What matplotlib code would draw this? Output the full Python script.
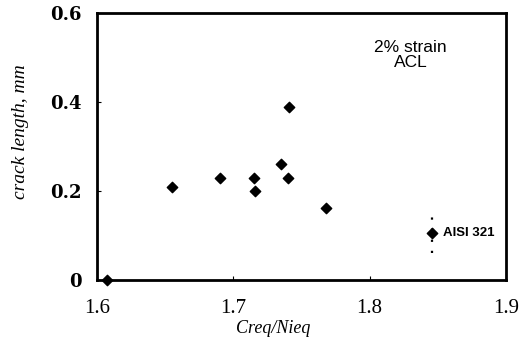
import numpy as np
from matplotlib import pyplot as plt

# data
cr_ni = [1.607, 1.655, 1.690, 1.715, 1.716, 1.735, 1.740, 1.741, 1.768]
crack = [0.0, 0.21, 0.23, 0.23, 0.20, 0.26, 0.23, 0.39, 0.162]

aisi_x = 1.846
aisi_y = 0.105
aisi_lo = 0.06
aisi_hi = 0.152

xticks = [1.6, 1.7, 1.8, 1.9]
xtick_labels = ['1.6', '1.7', '1.8', '1.9']
yticks = [0, 0.2, 0.4, 0.6]
ytick_labels = ['0', '0.2', '0.4', '0.6']

fig = plt.figure(figsize=(5.27, 3.46), dpi=100)
ax = fig.add_axes([0.184, 0.191, 0.776, 0.771])

ax.scatter(cr_ni, crack, marker='D', s=28, color='black', zorder=3, clip_on=False)

# AISI 321 point with dotted scatter band
ax.plot([aisi_x, aisi_x], [aisi_lo, aisi_hi], color='black', linestyle=(0, (1, 4)), linewidth=1.6)
ax.scatter([aisi_x], [aisi_y], marker='D', s=28, color='black', zorder=3)
ax.text(aisi_x + 0.008, aisi_y, 'AISI 321', fontsize=9.5, fontweight='bold',
        family='Liberation Sans', va='center', ha='left')

ax.text(1.830, 0.505, '2% strain\nACL', fontsize=12.5, family='Liberation Sans',
        ha='center', va='center', linespacing=1.0)

ax.set_xlim(1.6, 1.9)
ax.set_ylim(0, 0.6)
ax.set_xticks(xticks)
ax.set_xticklabels(xtick_labels)
ax.set_yticks(yticks)
ax.set_yticklabels(ytick_labels)
for lbl in ax.get_xticklabels():
    lbl.set_family('Liberation Serif')
    lbl.set_fontsize(15)
for lbl in ax.get_yticklabels():
    lbl.set_family('DejaVu Serif')
    lbl.set_fontsize(13)
    lbl.set_fontweight('bold')
ax.tick_params(direction='in', length=3, width=0.8)
ax.tick_params(axis='x', pad=14)
ax.tick_params(axis='y', pad=11)

for s in ax.spines.values():
    s.set_linewidth(2)

ax.set_xlabel('Creq/Nieq', fontsize=13, family='Liberation Serif', style='italic')
ax.xaxis.set_label_coords(0.43, -0.15)
ax.set_ylabel('crack length, mm', fontsize=14, family='Liberation Serif', style='italic')
ax.yaxis.set_label_coords(-0.165, 0.555)

plt.savefig('out.png', dpi=100)
